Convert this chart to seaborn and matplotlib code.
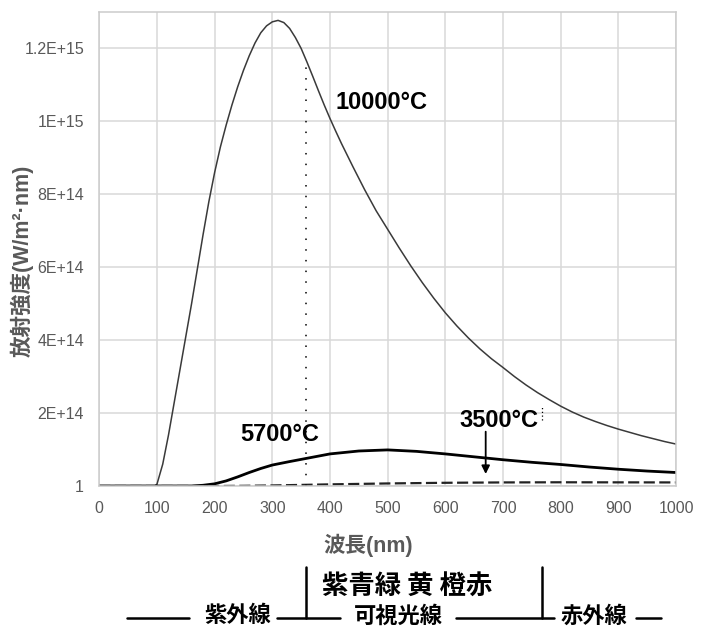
import matplotlib
matplotlib.use('Agg')
import matplotlib.pyplot as plt
import matplotlib.transforms as mtransforms
from matplotlib.lines import Line2D
import pandas as pd
import seaborn as sns

# values (wavelength nm, intensity in units of 1E+14)
wl_10000 = [0, 50, 96, 100, 110, 120, 130, 140, 150, 160, 170, 180, 190, 200, 210, 220, 230, 240,
            250, 260, 270, 280, 290, 300, 310, 320, 330, 340, 350, 360, 370, 380, 390, 400, 410,
            420, 440, 460, 480, 500, 520, 540, 560, 580, 600, 620, 640, 660, 680, 700, 720, 740,
            760, 780, 800, 820, 840, 860, 880, 900, 920, 940, 960, 980, 1000]
val_10000 = [0, 0, 0, 0.05, 0.6, 1.4, 2.3, 3.2, 4.1, 5.0, 5.95, 6.9, 7.8, 8.6, 9.3, 9.9, 10.45, 10.95,
             11.4, 11.8, 12.15, 12.43, 12.62, 12.73, 12.77, 12.71, 12.55, 12.3, 12.0, 11.63, 11.24,
             10.84, 10.45, 10.08, 9.73, 9.39, 8.75, 8.13, 7.55, 7.04, 6.53, 6.04, 5.58, 5.15, 4.75,
             4.39, 4.06, 3.76, 3.49, 3.25, 3.0, 2.77, 2.56, 2.37, 2.19, 2.03, 1.89, 1.77, 1.66, 1.56,
             1.47, 1.38, 1.3, 1.22, 1.15]

wl_5700 = [0, 100, 160, 180, 200, 220, 240, 260, 280, 300, 330, 360, 400, 450, 500, 550, 600, 650,
           700, 750, 800, 850, 900, 950, 1000]
val_5700 = [0, 0, 0, 0.02, 0.06, 0.14, 0.25, 0.37, 0.48, 0.575, 0.67, 0.76, 0.88, 0.96, 0.99, 0.95,
            0.88, 0.8, 0.72, 0.65, 0.59, 0.52, 0.46, 0.41, 0.37]

wl_3500 = [0, 100, 200, 250, 300, 350, 400, 500, 600, 700, 800, 900, 1000]
val_3500 = [0, 0, 0, 0.005, 0.015, 0.03, 0.045, 0.07, 0.088, 0.098, 0.102, 0.1, 0.098]

x_ticks = [0, 100, 200, 300, 400, 500, 600, 700, 800, 900, 1000]
y_ticks = [0, 2e14, 4e14, 6e14, 8e14, 1e15, 1.2e15]
y_tick_labels = ['1', '2E+14', '4E+14', '6E+14', '8E+14', '1E+15', '1.2E+15']

visible_edges = [358, 768]   # dotted boundary lines / brackets (nm)

sns.set_style('white')
plt.rcParams['font.family'] = ['Liberation Sans', 'Noto Sans CJK JP', 'DejaVu Sans']

W, H = 710, 630
fig = plt.figure(figsize=(W / 100, H / 100), dpi=100)
ax = fig.add_axes([99.3 / W, 1 - 486 / H, (676 - 99.3) / W, (486 - 12) / H])


def frame(wl, val):
    return pd.DataFrame({'wl': wl, 'val': [v * 1e14 for v in val]})


sns.lineplot(data=frame(wl_10000, val_10000), x='wl', y='val', ax=ax, color='#3a3a3a', lw=1.1,
             legend=False, estimator=None, sort=False)
sns.lineplot(data=frame(wl_5700, val_5700), x='wl', y='val', ax=ax, color='black', lw=2.0,
             legend=False, estimator=None, sort=False)
sns.lineplot(data=frame(wl_3500, val_3500), x='wl', y='val', ax=ax, color='#222222', lw=1.6,
             legend=False, estimator=None, sort=False)
ax.lines[-1].set_dashes([5, 2])

ax.set_xlim(0, 1000)
ax.set_ylim(0, 1.3e15)
ax.set_xticks(x_ticks)
ax.set_yticks(y_ticks)
ax.set_yticklabels(y_tick_labels)
ax.tick_params(length=0, labelsize=11.5, labelcolor='#595959', pad=11)
ax.grid(True, color='#d9d9d9', lw=1.1)
ax.set_axisbelow(True)
for s in ax.spines.values():
    s.set_color('#cccccc')
    s.set_linewidth(1.1)
ax.set_xlabel('')
ax.set_ylabel('')

# dotted guide lines
ax.plot([visible_edges[0]] * 2, [0, 1.16e15], color='black', lw=1.1, ls=(0, (1, 6)))
ax.plot([visible_edges[1]] * 2, [1.81e14, 2.19e14], color='black', lw=0.9, ls=(0, (1, 2)))

lab = dict(ha='center', va='center', fontsize=17, fontweight='bold', color='black')
ax.text(490, 1.052e15, '10000°C', **lab)
ax.text(313, 1.41e14, '5700°C', **lab)
ax.text(693, 1.81e14, '3500°C', **lab)
ax.annotate('', xy=(670, 0.33e14), xytext=(670, 1.49e14),
            arrowprops=dict(arrowstyle='-|>', color='black', lw=1.3, mutation_scale=12,
                            shrinkA=0, shrinkB=0))

# axis titles
fig.text(368 / W, 1 - 545 / H, '波長(nm)', ha='center', va='center', fontsize=15.5,
         fontweight='bold', color='#595959')
fig.text(22 / W, 1 - 261 / H, '放射強度(W/m²·nm)', ha='center', va='center', fontsize=15.5,
         fontweight='bold', color='#595959', rotation=90)

# spectrum bracket underneath
cjk = dict(ha='center', va='center', fontweight='bold', color='black',
           family=['Noto Sans CJK JP', 'DejaVu Sans'])
fig.text(407.5 / W, 1 - 587 / H, '紫青緑 黄 橙赤', fontsize=19, **cjk)
fig.text(237.5 / W, 1 - 616 / H, '紫外線', fontsize=16, **cjk)
fig.text(398 / W, 1 - 616 / H, '可視光線', fontsize=16, **cjk)
fig.text(594 / W, 1 - 616 / H, '赤外線', fontsize=16, **cjk)

yl = 1 - 618 / H
for x0, x1 in [(126.6, 189.4), (276.8, 339.5), (455.5, 554.4), (636, 661)]:
    fig.add_artist(Line2D([x0 / W, x1 / W], [yl, yl], color='black', lw=1.8))
blend = mtransforms.blended_transform_factory(ax.transData, fig.transFigure)
for xe in visible_edges:
    fig.add_artist(Line2D([xe, xe], [1 - 567 / H, yl], color='black', lw=1.8, transform=blend))

fig.savefig('out.png', dpi=100)
